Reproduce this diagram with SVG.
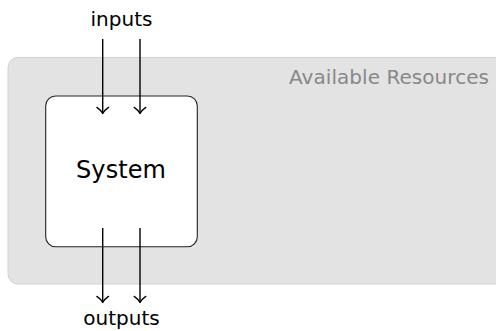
<svg xmlns="http://www.w3.org/2000/svg" width="496" height="331" viewBox="0 0 496 331">
<style>
.lbl{font-family:"DejaVu Sans",sans-serif;font-size:20px;fill:#000;text-anchor:middle}
.res{font-family:"DejaVu Sans",sans-serif;font-size:20px;fill:#888;text-anchor:end}
.sys{font-family:"DejaVu Sans",sans-serif;font-size:24px;fill:#000;text-anchor:middle}
.arr{stroke:#000;stroke-width:1.4;fill:none;marker-end:url(#v)}
</style>
<defs>
<marker id="v" viewBox="0 0 9 14" refX="7.6" refY="7" markerWidth="9" markerHeight="14" markerUnits="userSpaceOnUse" orient="auto">
<path d="M1.5,1.2 Q4.5,5.5 7.6,7 Q4.5,8.5 1.5,12.8" fill="none" stroke="#000" stroke-width="1.3" stroke-linecap="round" stroke-linejoin="round"/>
</marker>
</defs>
<g id="resources">
<rect x="8" y="57.5" width="498" height="226.5" rx="10" fill="#e3e3e3" stroke="#d2d2d2" stroke-width="1"/>
<text class="res" x="489" y="84" textLength="200">Available Resources</text>
</g>
<g id="system">
<rect x="45.7" y="96" width="151.6" height="150.7" rx="10" fill="#fff" stroke="#222" stroke-width="1.1"/>
<text class="sys" x="121" y="178" textLength="90">System</text>
</g>
<g id="inputs">
<text class="lbl" x="121.5" y="26">inputs</text>
</g>
<g id="outputs">
<text class="lbl" x="121.5" y="325">outputs</text>
</g>
<g id="connectors">
<line class="arr" x1="102.7" y1="39" x2="102.7" y2="113.5"/>
<line class="arr" x1="140" y1="39" x2="140" y2="113.5"/>
<line class="arr" x1="102.7" y1="228" x2="102.7" y2="302.5"/>
<line class="arr" x1="140" y1="228" x2="140" y2="302.5"/>
</g>
</svg>
